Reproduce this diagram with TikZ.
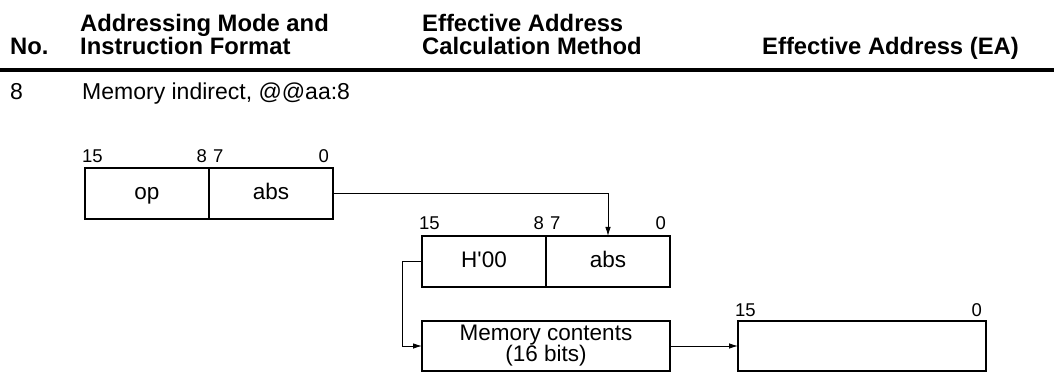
\documentclass[tikz,border=0pt]{standalone}
\usepackage{fontspec}
\setmainfont{Liberation Sans}[Ligatures=TeXOff]
\usetikzlibrary{positioning,arrows.meta}

\begin{document}
\begin{tikzpicture}[x=1pt,y=-1pt,
    field/.style={draw, line width=1.1pt, minimum width=124pt, minimum height=51pt,
        inner sep=0pt, outer sep=0pt, text height=16pt, text depth=4pt,
        font=\fontsize{22.5}{22}\selectfont},
    wide/.style={field, minimum width=248pt, minimum height=50pt, text height=, text depth=},
    bit/.style={inner sep=0pt, font=\fontsize{18.5}{19}\selectfont},
    head/.style={anchor=base west, inner sep=0pt, font=\bfseries\fontsize{23.8}{24}\selectfont},
    body/.style={anchor=base west, inner sep=0pt, font=\fontsize{23}{24}\selectfont},
    link/.style={line width=0.9pt, -{Latex[length=9pt,width=5.5pt]}}]
    \useasboundingbox (0,0) rectangle (1054,379);

    % table header
    \node[head] (no) at (10,55) {No.};
    \node[head] (mode) at (80,32) {Addressing Mode and};
    \node[head] (format) at (80,55) {Instruction Format};
    \node[head] (calc) at (422,32) {Effective Address};
    \node[head] (method) at (422,55) {Calculation Method};
    \node[head] (eahead) at (762,55) {Effective Address (EA)};
    \draw[line width=4pt] (0,70) -- (1054,70);

    \node[body] (num) at (10,100) {8};
    \node[body] (title) at (82,100) {Memory indirect, @@aa:8};

    % instruction format
    \node[field, anchor=north west] (op) at (85,168) {op};
    \node[field, right=0pt of op] (abs1) {abs};
    \node[bit, anchor=base west] (a15) at ([xshift=-3pt,yshift=5pt]op.north west) {15};
    \node[bit, anchor=base east] (a8) at ([xshift=-2pt,yshift=5pt]op.north east) {8};
    \node[bit, anchor=base west] (a7) at ([xshift=4pt,yshift=5pt]abs1.north west) {7};
    \node[bit, anchor=base east] (a0) at ([xshift=-4pt,yshift=5pt]abs1.north east) {0};

    % address in memory
    \node[field, anchor=north west] (h00) at (422,236) {H'00};
    \node[field, right=0pt of h00] (abs2) {abs};
    \node[bit, anchor=base west] (b15) at ([xshift=-3pt,yshift=6pt]h00.north west) {15};
    \node[bit, anchor=base east] (b8) at ([xshift=-2pt,yshift=6pt]h00.north east) {8};
    \node[bit, anchor=base west] (b7) at ([xshift=4pt,yshift=6pt]abs2.north west) {7};
    \node[bit, anchor=base east] (b0) at ([xshift=-4pt,yshift=6pt]abs2.north east) {0};

    % memory contents and EA
    \node[wide, anchor=north west, align=center, font=\fontsize{22.5}{21}\selectfont] (mem) at (422,321) {Memory contents\\(16 bits)};
    \node[wide, right=68pt of mem] (ea) {};
    \node[bit, anchor=base west] (c15) at ([xshift=-3pt,yshift=5pt]ea.north west) {15};
    \node[bit, anchor=base east] (c0) at ([xshift=-4pt,yshift=5pt]ea.north east) {0};

    \draw[link] (abs1.east) -| (abs2.north);
    \draw[link] (h00.west) -- ++(-20,0) |- (mem.west);
    \draw[link] (mem.east) -- (ea.west);
\end{tikzpicture}
\end{document}
